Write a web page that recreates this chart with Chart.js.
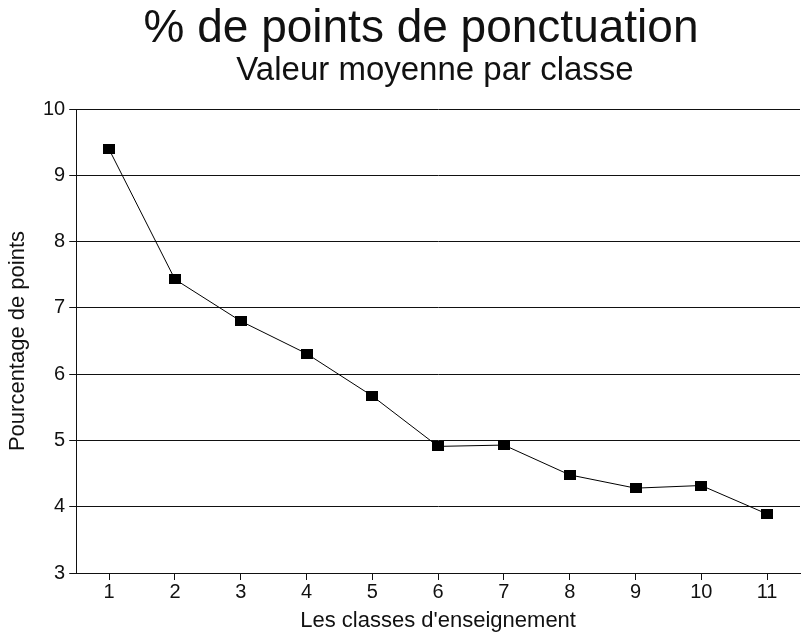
<!DOCTYPE html>
<html>
<head>
<meta charset="utf-8">
<script src="https://cdn.jsdelivr.net/npm/chart.js@4/dist/chart.umd.min.js"></script>
<style>
html,body{margin:0;padding:0;background:#fff;}
#wrap{width:801px;height:633px;position:relative;}
</style>
</head>
<body>
<div id="wrap"><canvas id="c" width="801" height="633"></canvas></div>
<script>
const categories = ["1","2","3","4","5","6","7","8","9","10","11"];
const values = [9.39, 7.43, 6.80, 6.31, 5.67, 4.91, 4.93, 4.48, 4.28, 4.32, 3.89];
const yTicks = [3,4,5,6,7,8,9,10];
const titleText = "% de points de ponctuation";
const subtitleText = "Valeur moyenne par classe";
const xTitle = "Les classes d'enseignement";
const yTitle = "Pourcentage de points";

const marker = document.createElement('canvas');
marker.width = 12; marker.height = 10;
const mctx = marker.getContext('2d');
mctx.fillStyle = '#000';
mctx.fillRect(0,0,12,10);

const FONT = "'Liberation Sans', Arial, Helvetica, sans-serif";
const ink = '#111';

// shift the title blocks slightly right, as in the reference
const shiftTitles = {
  id: 'shiftTitles',
  afterLayout(chart) {
    chart.boxes.forEach(b => {
      if (!b.options || b.options.text === undefined) return;
      if (b.options.text === titleText) b.left += 35;
      if (b.options.text === subtitleText) b.left += 63;
    });
  }
};

new Chart(document.getElementById('c'), {
  type: 'line',
  data: {
    labels: categories,
    datasets: [{
      data: values,
      borderColor: '#000',
      borderWidth: 1,
      pointStyle: marker,
      pointRadius: 6,
      tension: 0,
      fill: false
    }]
  },
  plugins: [shiftTitles],
  options: {
    responsive: false,
    animation: false,
    devicePixelRatio: 1,
    layout: { autoPadding: false, padding: { left: 7, right: 1, top: 0, bottom: 1 } },
    plugins: {
      legend: { display: false },
      tooltip: { enabled: false },
      title: {
        display: true, text: titleText, color: ink,
        font: { family: FONT, size: 46, weight: 'normal', lineHeight: 1.0 },
        padding: { top: 6, bottom: 2 }
      },
      subtitle: {
        display: true, text: subtitleText, color: ink,
        font: { family: FONT, size: 33, weight: 'normal', lineHeight: 1.0 },
        padding: { top: 0, bottom: 22 }
      }
    },
    scales: {
      x: {
        type: 'category',
        offset: true,
        grid: { display: true, offset: false, drawOnChartArea: false, drawTicks: true, tickLength: 7, color: ink, lineWidth: 1 },
        border: { display: true, color: ink, width: 1 },
        ticks: { color: ink, font: { family: FONT, size: 20, lineHeight: 1.0 }, padding: 2, maxRotation: 0 },
        title: { display: true, text: xTitle, color: ink, font: { family: FONT, size: 22, lineHeight: 1.0 }, padding: { top: 6, bottom: 0 } }
      },
      y: {
        min: 3, max: 10,
        afterBuildTicks: (s) => { s.ticks = yTicks.map(v => ({ value: v })); },
        grid: { display: true, drawOnChartArea: true, drawTicks: true, tickLength: 7, color: ink, lineWidth: 1 },
        border: { display: true, color: ink, width: 1 },
        ticks: { color: ink, font: { family: FONT, size: 20 }, padding: 4 },
        title: { display: true, text: yTitle, color: ink, font: { family: FONT, size: 22, lineHeight: 1.0 }, padding: { top: 0, bottom: 10 } }
      }
    }
  }
});
</script>
</body>
</html>
